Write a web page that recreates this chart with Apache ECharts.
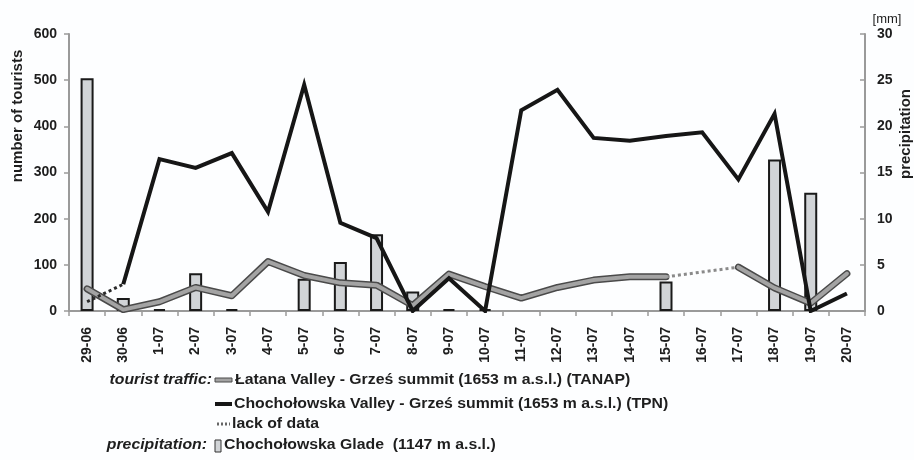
<!DOCTYPE html>
<html><head><meta charset="utf-8">
<script src="https://cdn.jsdelivr.net/npm/echarts@6/dist/echarts.min.js"></script>
<style>html,body{margin:0;padding:0;background:#fdfeff}#c{width:914px;height:460px}</style>
</head><body><div id="c"></div>
<script>
var categories = ['29-06','30-06','1-07','2-07','3-07','4-07','5-07','6-07','7-07','8-07','9-07','10-07','11-07','12-07','13-07','14-07','15-07','16-07','17-07','18-07','19-07','20-07'];
var latana = [48,3,20,51,33,107,77,61,56,12,80,53,28,51,67,74,74,null,95,50,17,81];
var latanaGap = [null,null,null,null,null,null,null,null,null,null,null,null,null,null,null,null,74,null,95,null,null,null];
var chocholowska = [null,58,329,310,342,215,490,191,158,0,71,0,435,479,375,369,379,387,285,427,0,38];
var chocholowskaGap = [20,58,null,null,null,null,null,null,null,null,null,null,null,null,null,null,null,null,null,null,null,null];
var precipitation = [25.2,1.4,0.2,4.1,0.2,null,3.5,5.3,8.3,2.1,0.2,0.2,null,null,null,null,3.2,null,null,16.4,12.8,null];
var leftTicks = [0,600,100];
var rightTicks = [0,30,5];

var F = '"Liberation Sans", Arial, sans-serif';
var chart = echarts.init(document.getElementById('c'));
var axisLine = {show:true, lineStyle:{color:'#9a9a9a', width:2}};
var SX = 1.13;
function legendText(x, y, txt, italic, align){
  return {type:'text', x:x, y:y, scaleX:SX, style:{text:txt, font:(italic?'italic ':'')+'bold 14px '+F, fill:'#1e1e1e', align:align||'left', verticalAlign:'middle'}};
}
var option = {
  backgroundColor:'#fdfeff',
  animation:false,
  grid:{left:69, right:49, top:34, bottom:149},
  xAxis:{type:'category', data:categories, boundaryGap:true,
    axisLine:axisLine,
    axisTick:{show:true, interval:0, length:5, lineStyle:{color:'#9a9a9a', width:1.5}},
    axisLabel:{interval:0, rotate:90, margin:16, fontFamily:F, fontWeight:'bold', fontSize:14, color:'#1e1e1e'}},
  yAxis:[
    {type:'value', min:leftTicks[0], max:leftTicks[1], interval:leftTicks[2], position:'left',
     axisLine:axisLine, splitLine:{show:false},
     axisTick:{show:true, length:5, lineStyle:{color:'#9a9a9a', width:1.5}},
     axisLabel:{margin:12, fontFamily:F, fontWeight:'bold', fontSize:14, color:'#1e1e1e'}},
    {type:'value', min:rightTicks[0], max:rightTicks[1], interval:rightTicks[2], position:'right',
     axisLine:axisLine, splitLine:{show:false},
     axisTick:{show:true, inside:true, length:5, lineStyle:{color:'#9a9a9a', width:1.5}},
     axisLabel:{margin:12, fontFamily:F, fontWeight:'bold', fontSize:14, color:'#1e1e1e'}}
  ],
  series:[
    {type:'bar', yAxisIndex:1, data:precipitation, barWidth:13, z:1,
     itemStyle:{color:'#d1d4d7', borderColor:'#1a1a1a', borderWidth:2}},
    {type:'line', data:latana, symbol:'none', z:3,
     lineStyle:{color:'#4a4a4a', width:7, cap:'round', join:'round'}},
    {type:'line', data:latana, symbol:'none', z:4,
     lineStyle:{color:'#a3a3a3', width:4, cap:'round', join:'round'}},
    {type:'line', data:latanaGap, connectNulls:true, symbol:'none', z:3,
     lineStyle:{color:'#8a8a8a', width:3, type:[3,3]}},
    {type:'line', data:chocholowskaGap, symbol:'none', z:5,
     lineStyle:{color:'#2a2a2a', width:3, type:[3,3]}},
    {type:'line', data:chocholowska, symbol:'none', z:6,
     lineStyle:{color:'#161616', width:4, join:'miter'}}
  ],
  graphic:[
    {type:'text', x:18, y:116, rotation:Math.PI/2, style:{text:'number of tourists', font:'bold 15px '+F, fill:'#1e1e1e', align:'center', verticalAlign:'middle'}},
    {type:'text', x:906, y:134, rotation:Math.PI/2, style:{text:'precipitation', font:'bold 15px '+F, fill:'#1e1e1e', align:'center', verticalAlign:'middle'}},
    {type:'text', x:887, y:19, style:{text:'[mm]', font:'13px '+F, fill:'#1e1e1e', align:'center', verticalAlign:'middle'}},
    legendText(212, 380, 'tourist traffic:', true, 'right'),
    {type:'rect', shape:{x:215, y:378, width:17, height:4}, style:{fill:'#a3a3a3', stroke:'#4a4a4a', lineWidth:1}},
    legendText(235, 380, 'Łatana Valley - Grześ summit (1653 m a.s.l.) (TANAP)'),
    {type:'rect', shape:{x:215, y:402, width:17, height:4}, style:{fill:'#161616'}},
    legendText(234, 404, 'Chochołowska Valley - Grześ summit (1653 m a.s.l.) (TPN)'),
    {type:'line', shape:{x1:217, y1:424, x2:230, y2:424}, style:{stroke:'#666', lineWidth:3, lineDash:[2,2]}},
    legendText(232, 424, 'lack of data'),
    legendText(207, 445, 'precipitation:', true, 'right'),
    {type:'rect', shape:{x:215, y:440, width:6, height:12}, style:{fill:'#d1d4d7', stroke:'#333', lineWidth:1}},
    legendText(224, 445, 'Chochołowska Glade  (1147 m a.s.l.)')
  ]
};
chart.setOption(option);
</script></body></html>
